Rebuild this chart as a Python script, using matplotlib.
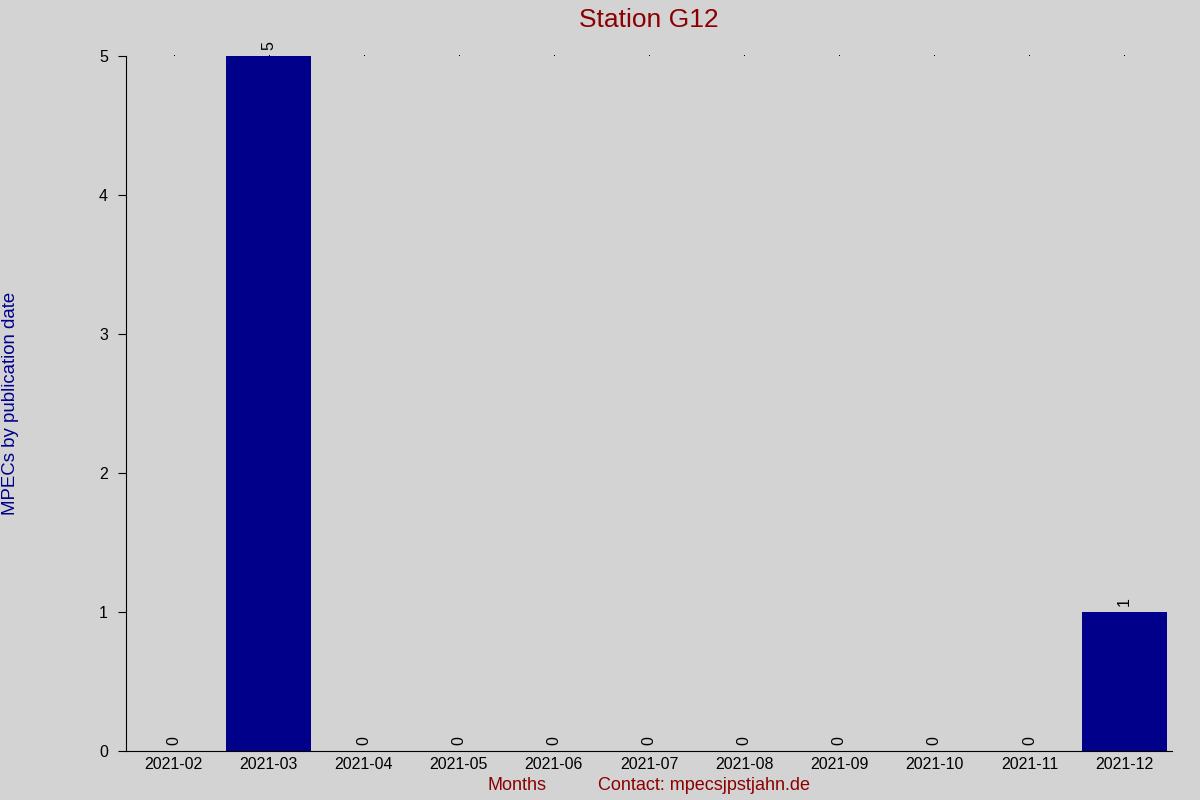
import matplotlib
matplotlib.use("Agg")
import matplotlib.pyplot as plt

plt.rcParams['font.family'] = ['Liberation Sans', 'DejaVu Sans']

months = ["2021-02", "2021-03", "2021-04", "2021-05", "2021-06", "2021-07",
          "2021-08", "2021-09", "2021-10", "2021-11", "2021-12"]
counts = [0, 5, 0, 0, 0, 0, 0, 0, 0, 0, 1]

bg = "#d3d3d3"
fig = plt.figure(figsize=(12, 8), dpi=100, facecolor=bg)
ax = fig.add_axes([0.105, 0.06125, 0.8717, 0.86875], facecolor=bg)

x = list(range(len(months)))
bars = ax.bar(x, counts, width=0.9, color="#00008b")

# rotated value labels above each bar
for xi, v in zip(x, counts):
    ax.annotate(str(v), (xi, v), xytext=(0, 4), textcoords="offset points",
                rotation=90, ha="center", va="bottom", fontsize=11.5)

ax.set_xlim(-0.5, len(months) - 0.5)
ax.set_ylim(0, 5)
ax.set_xticks(x)
ax.set_xticklabels(months, fontsize=11.5)
ax.set_yticks(range(6))
ax.tick_params(axis="y", labelsize=11.5, length=6, pad=7, direction="out")
ax.tick_params(axis="x", length=0, pad=4)
for s in ["top", "right"]:
    ax.spines[s].set_visible(False)

# little dots along the top edge
for xi in x:
    ax.plot(xi, 5, marker=",", color="black", clip_on=False)

fig.text(0.541, 0.975, "Station G12", color="#8b0000", fontsize=19,
         ha="center", va="center")
fig.text(0.431, 0.0175, "Months", color="#8b0000", fontsize=13,
         ha="center", va="center")
fig.text(0.587, 0.0175, "Contact: mpecsjpstjahn.de", color="#8b0000",
         fontsize=13, ha="center", va="center")
fig.text(0.009, 0.496, "MPECs by publication date", color="#00008b",
         fontsize=13.4, rotation=90, ha="center", va="center")

fig.savefig("out.png", dpi=100, facecolor=bg)
